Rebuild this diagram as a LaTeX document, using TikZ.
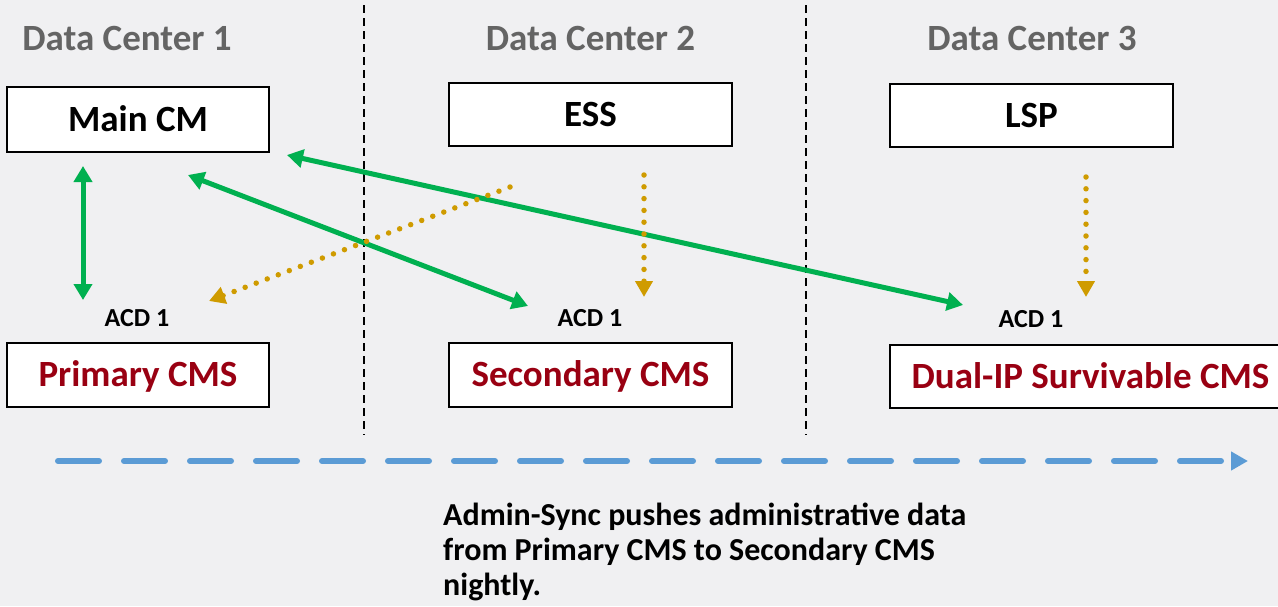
\documentclass[tikz,border=0pt]{standalone}
\usepackage{fontspec}
\setmainfont{Carlito}
\usetikzlibrary{arrows.meta}
\definecolor{bg}{HTML}{F0F0F2}
\definecolor{hdrgray}{HTML}{646464}
\definecolor{cmsred}{HTML}{990012}
\definecolor{lgreen}{HTML}{00B050}
\definecolor{dotorange}{HTML}{CF9B00}
\definecolor{syncblue}{HTML}{5B9BD5}
\tikzset{
  box/.style={draw=black, line width=2pt, fill=white, inner sep=0pt,
    text height=23.2pt, text depth=0pt},
  boxtext/.style={font=\fontsize{37}{44}\selectfont\bfseries},
  redtext/.style={text=cmsred},
  header/.style={font=\fontsize{37}{44}\selectfont\bfseries, text=hdrgray,
    inner sep=0pt, text height=23.2pt, text depth=0pt},
  acd/.style={font=\fontsize{26}{31}\selectfont\bfseries, inner sep=0pt,
    text height=16.4pt, text depth=0pt},
  divider/.style={draw=black, line width=1.8pt, dash pattern=on 8pt off 5pt},
  greenlink/.style={draw=lgreen, line width=5pt,
    {Triangle[length=16pt,width=18pt]}-{Triangle[length=16pt,width=18pt]}},
  dotarrow/.style={draw=dotorange, line width=5.5pt, line cap=round,
    dash pattern=on 0pt off 11.8pt, -{Triangle[length=16pt,width=17pt]}},
  syncarrow/.style={draw=syncblue, line width=6pt, line cap=round,
    dash pattern=on 41pt off 25pt, -{Triangle[length=17pt,width=18pt]}},
  note/.style={font=\fontsize{32}{35}\selectfont\bfseries, align=left,
    inner sep=0pt}
}
\begin{document}
\begin{tikzpicture}[x=1pt,y=-1pt]
\fill[bg] (0,0) rectangle (1278,606);
\useasboundingbox (0,0) rectangle (1278,606);
\clip (0,0) rectangle (1278,606);

% dividers
\coordinate (d1t) at (364,5);
\coordinate (d1b) at (364,435);
\coordinate (d2t) at (806,5);
\coordinate (d2b) at (806,435);
\draw[divider] (d1t) -- (d1b);
\draw[divider] (d2t) -- (d2b);

% headers
\node[header] (h1) at (127,39) {Data Center 1};
\node[header] (h2) at (590.5,39) {Data Center 2};
\node[header] (h3) at (1032,39) {Data Center 3};

% top boxes
\node[box, boxtext, minimum width=262pt, minimum height=65pt] (main) at (138,119.5) {Main CM};
\node[box, boxtext, minimum width=283pt, minimum height=63pt] (ess) at (590.5,114.5) {ESS};
\node[box, boxtext, minimum width=283pt, minimum height=63pt] (lsp) at (1031.5,115.5) {LSP};

% bottom boxes
\node[box, boxtext, redtext, minimum width=262pt, minimum height=64pt] (prim) at (138,375) {Primary CMS};
\node[box, boxtext, redtext, minimum width=283pt, minimum height=64pt] (sec) at (590.5,375) {Secondary CMS};
\node[box, boxtext, redtext, minimum width=401pt, minimum height=63pt] (dual) at (1090.5,376.5) {Dual-IP Survivable CMS};

% ACD labels
\node[acd] (acd1) at (137,318) {ACD 1};
\node[acd] (acd2) at (590,318) {ACD 1};
\node[acd] (acd3) at (1031,319) {ACD 1};

% green links
\coordinate (g1a) at (83,166);
\coordinate (g1b) at (83,300);
\coordinate (g2a) at (188,175);
\coordinate (g2b) at (528,306);
\coordinate (g3a) at (287,155);
\coordinate (g3b) at (963,305);
\draw[greenlink] (g1a) -- (g1b);
\draw[greenlink] (g2a) -- (g2b);
\draw[greenlink] (g3a) -- (g3b);

% orange dotted arrows
\coordinate (o1a) at (510,187);
\coordinate (o1b) at (209,301);
\coordinate (o2a) at (644,175);
\coordinate (o2b) at (644,297);
\coordinate (o3a) at (1086,177);
\coordinate (o3b) at (1086,297);
\draw[dotarrow] (o1a) -- (o1b);
\draw[dotarrow] (o2a) -- (o2b);
\draw[dotarrow] (o3a) -- (o3b);

% admin sync arrow
\coordinate (s1) at (58,461);
\coordinate (s2) at (1248,461);
\draw[syncarrow] (s1) -- (s2);

% note
\node[note, anchor=base west] (txt) at (443,595) {Admin-Sync pushes administrative data\\from Primary CMS to Secondary CMS\\nightly.};
\end{tikzpicture}
\end{document}
